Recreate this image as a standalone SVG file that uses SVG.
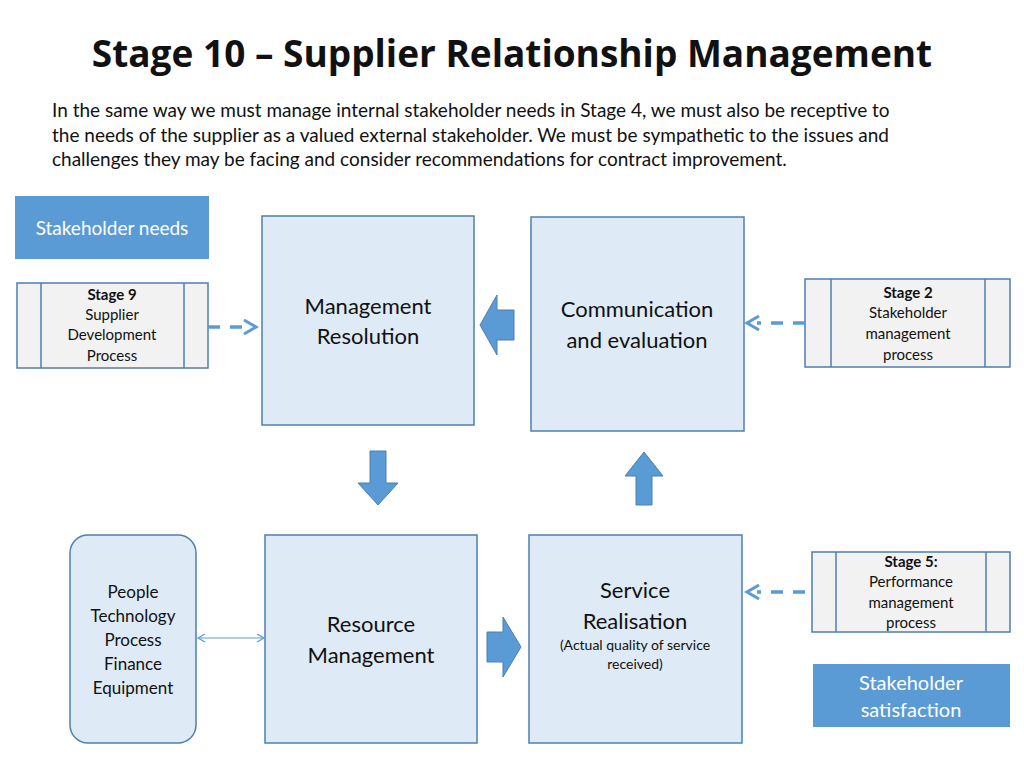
<svg xmlns="http://www.w3.org/2000/svg" width="1024" height="768" viewBox="0 0 1024 768">
<style>
.t{font-family:Lato,"Open Sans",sans-serif;fill:#111}
.box{fill:#deeaf6;stroke:#4f7fb0;stroke-width:1.5}
.proc{fill:#f2f2f2;stroke:#4f7fb0;stroke-width:1.5}
.blk{fill:#5b9bd5;stroke:#4f7fb0;stroke-width:1}
.lab{fill:#5b9bd5}
.dash{stroke:#5b9bd5;stroke-width:3.5;stroke-dasharray:12,10;fill:none}
.hd{stroke:#5b9bd5;stroke-width:3;fill:none}
</style>
<defs>
<marker id="ah" markerWidth="10" markerHeight="10" refX="8" refY="5" orient="auto-start-reverse" markerUnits="userSpaceOnUse"><path d="M1,1 L8,5 L1,9" fill="none" stroke="#5b9bd5" stroke-width="1.2"/></marker>
</defs>
<rect width="1024" height="768" fill="#fff"/>
<text x="512" y="67" text-anchor="middle" style="font-family:'Open Sans',sans-serif;font-weight:bold;font-size:37px;fill:#111">Stage 10 – Supplier Relationship Management</text>
<g class="t" font-size="19">
<text x="52" y="117">In the same way we must manage internal stakeholder needs in Stage 4, we must also be receptive to</text>
<text x="52" y="142">the needs of the supplier as a valued external stakeholder. We must be sympathetic to the issues and</text>
<text x="52" y="166">challenges they may be facing and consider recommendations for contract improvement.</text>
</g>
<g id="stakeholder-needs"><rect class="lab" x="15" y="196" width="194" height="63"/><text x="112" y="235" text-anchor="middle" font-size="19" style="font-family:Lato,sans-serif;fill:#fff">Stakeholder needs</text></g>
<g id="stage9"><rect class="proc" x="17" y="283" width="191" height="85"/><line x1="41" y1="283" x2="41" y2="368" stroke="#4f7fb0" stroke-width="1.5"/><line x1="184" y1="283" x2="184" y2="368" stroke="#4f7fb0" stroke-width="1.5"/>
<g class="t" font-size="15" text-anchor="middle"><text x="112" y="300" font-weight="bold">Stage 9</text><text x="112" y="320">Supplier</text><text x="112" y="340">Development</text><text x="112" y="361">Process</text></g></g>
<g id="mgmt"><rect class="box" x="262" y="216" width="212" height="209"/><g class="t" font-size="22" text-anchor="middle"><text x="368" y="314">Management</text><text x="368" y="344">Resolution</text></g></g>
<g id="comm"><rect class="box" x="531" y="217" width="213" height="214"/><g class="t" font-size="22" text-anchor="middle"><text x="637" y="317">Communication</text><text x="637" y="348">and evaluation</text></g></g>
<g id="stage2"><rect class="proc" x="805" y="279" width="205" height="88"/><line x1="831" y1="279" x2="831" y2="367" stroke="#4f7fb0" stroke-width="1.5"/><line x1="985" y1="279" x2="985" y2="367" stroke="#4f7fb0" stroke-width="1.5"/>
<g class="t" font-size="15" text-anchor="middle"><text x="908" y="298" font-weight="bold">Stage 2</text><text x="908" y="318">Stakeholder</text><text x="908" y="339">management</text><text x="908" y="360">process</text></g></g>
<g id="people"><rect class="box" x="70" y="535" width="126" height="208" rx="18"/><g class="t" font-size="17" text-anchor="middle"><text x="133" y="598">People</text><text x="133" y="622">Technology</text><text x="133" y="646">Process</text><text x="133" y="670">Finance</text><text x="133" y="694">Equipment</text></g></g>
<g id="resource"><rect class="box" x="265" y="535" width="212" height="208"/><g class="t" font-size="22" text-anchor="middle"><text x="371" y="632">Resource</text><text x="371" y="663">Management</text></g></g>
<g id="service"><rect class="box" x="529" y="535" width="213" height="208"/><g class="t" text-anchor="middle"><text x="635" y="598" font-size="22">Service</text><text x="635" y="629" font-size="22">Realisation</text><text x="635" y="650" font-size="14">(Actual quality of service</text><text x="635" y="669" font-size="14">received)</text></g></g>
<g id="stage5"><rect class="proc" x="812" y="552" width="198" height="80"/><line x1="836" y1="552" x2="836" y2="632" stroke="#4f7fb0" stroke-width="1.5"/><line x1="986" y1="552" x2="986" y2="632" stroke="#4f7fb0" stroke-width="1.5"/>
<g class="t" font-size="15" text-anchor="middle"><text x="911" y="567" font-weight="bold">Stage 5:</text><text x="911" y="587">Performance</text><text x="911" y="608">management</text><text x="911" y="628">process</text></g></g>
<g id="stakeholder-satisfaction"><rect class="lab" x="813" y="664" width="197" height="63"/><g text-anchor="middle" font-size="20" style="font-family:Lato,sans-serif;fill:#fff"><text x="911" y="690">Stakeholder</text><text x="911" y="717">satisfaction</text></g></g>
<g id="connectors">
<path class="dash" d="M208,327 H248"/><path class="hd" d="M244,320 L256,327 L244,334"/>
<path class="dash" d="M805,323 H757"/><path class="hd" d="M759,316 L747,323 L759,330"/>
<path class="dash" d="M805,592 H757"/><path class="hd" d="M759,585 L747,592 L759,599"/>
<path class="blk" d="M480,325 L497,295 L497,310 L514,310 L514,340 L497,340 L497,355 Z"/>
<path class="blk" d="M370,451 H386 V483 H398 L378,505 L358,483 H370 Z"/>
<path class="blk" d="M636,505 H652 V476 H663 L644,452 L625,476 H636 Z"/>
<path class="blk" d="M487,632 H503 V617 L521,647 L503,677 V662 H487 Z"/>
<line x1="198" y1="638" x2="264" y2="638" stroke="#5b9bd5" stroke-width="1.2" marker-start="url(#ah)" marker-end="url(#ah)"/>
</g>
</svg>
